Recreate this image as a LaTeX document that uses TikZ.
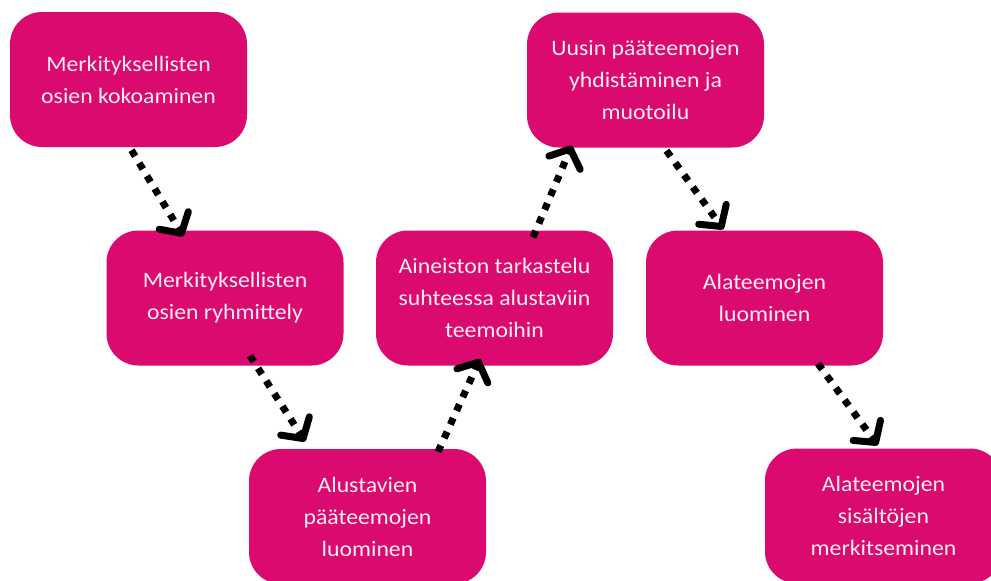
\documentclass[tikz,border=0pt]{standalone}
\usepackage{fontspec}
\setmainfont{Carlito}[FakeStretch=1.08]
\usetikzlibrary{arrows.meta,calc}
\definecolor{boxpink}{RGB}{218,10,110}
\definecolor{boxtext}{RGB}{252,236,244}
\begin{document}
\begin{tikzpicture}[x=1pt,y=-1pt,
  stage/.style={rectangle, rounded corners=32pt, fill=boxpink, text=boxtext,
    minimum width=237pt, minimum height=135pt, inner sep=0pt, align=center,
    font=\fontsize{22}{32}\selectfont},
  flow/.style={line width=7pt, dash pattern=on 7pt off 8pt,
    -{Straight Barb[round, length=15pt, width=34pt]}}]
\useasboundingbox (0,0) rectangle (991,581);

% process stages
\node[stage] (b1) at (128.5,79.5) {Merkityksellisten\\osien kokoaminen};
\node[stage] (b2) at (225,298) {Merkityksellisten\\osien ryhmittely};
\node[stage] (b3) at (367.5,516.5) {Alustavien\\pääteemojen\\luominen};
\node[stage] (b4) at (494.5,298) {Aineiston tarkastelu\\suhteessa alustaviin\\teemoihin};
\node[stage] (b5) at (645.5,80) {Uusin pääteemojen\\yhdistäminen ja\\muotoilu};
\node[stage] (b6) at (764.5,298) {Alateemojen\\luominen};
\node[stage] (b7) at (883.5,516) {Alateemojen\\sisältöjen\\merkitseminen};

% dotted flow arrows between stages
\draw[flow] ($(b1.south)+(3,3)$) -- ($(b2.north)+(-41.7,6)$);
\draw[flow] ($(b2.south)+(25,-10)$) -- ($(b3.north)+(-62.5,-7.3)$);
\draw[flow] ($(b3.north)+(70.5,3)$) -- ($(b4.south)+(-14.5,-6.7)$);
\draw[flow] ($(b4.north)+(38.5,7)$) -- ($(b5.south)+(-73.8,-2)$);
\draw[flow] ($(b5.south)+(21,3)$) -- ($(b6.north)+(-41.2,-1)$);
\draw[flow] ($(b6.south)+(53.5,-2)$) -- ($(b7.north)+(-5.8,-3)$);
\end{tikzpicture}
\end{document}
